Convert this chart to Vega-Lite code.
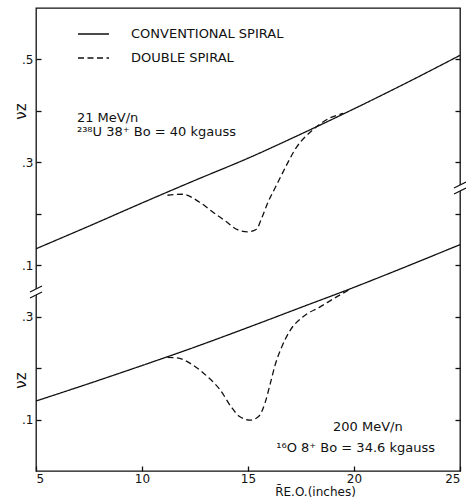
{
  "$schema": "https://vega.github.io/schema/vega-lite/v6.json",
  "width": 424,
  "height": 463,
  "autosize": "none",
  "padding": {"left": 36, "top": 8, "right": 6, "bottom": 31},
  "background": "white",
  "config": {
    "view": {"stroke": "#111", "strokeWidth": 1.3},
    "font": "DejaVu Sans",
    "axis": {"domain": false, "grid": false, "tickSize": -5, "tickColor": "#111", "tickWidth": 1.3, "labelColor": "#111", "labelFontSize": 12, "labelFont": "DejaVu Sans", "titleColor": "#111", "titleFontWeight": "normal", "titleFont": "DejaVu Sans"},
    "line": {"color": "#111", "strokeWidth": 1.3, "interpolate": "monotone"},
    "text": {"font": "DejaVu Sans", "color": "#111", "fontSize": 13, "align": "left", "baseline": "alphabetic"}
  },
  "datasets": {
    "curves": [
      {"panel": "U", "series": "CONVENTIONAL SPIRAL", "R": 5, "nu": 0.132},
      {"panel": "U", "series": "CONVENTIONAL SPIRAL", "R": 7.5, "nu": 0.176},
      {"panel": "U", "series": "CONVENTIONAL SPIRAL", "R": 10, "nu": 0.221},
      {"panel": "U", "series": "CONVENTIONAL SPIRAL", "R": 12.5, "nu": 0.265},
      {"panel": "U", "series": "CONVENTIONAL SPIRAL", "R": 15, "nu": 0.308},
      {"panel": "U", "series": "CONVENTIONAL SPIRAL", "R": 17.5, "nu": 0.355},
      {"panel": "U", "series": "CONVENTIONAL SPIRAL", "R": 20, "nu": 0.404},
      {"panel": "U", "series": "CONVENTIONAL SPIRAL", "R": 22.5, "nu": 0.455},
      {"panel": "U", "series": "CONVENTIONAL SPIRAL", "R": 25, "nu": 0.508},
      {"panel": "U", "series": "DOUBLE SPIRAL", "R": 11.2, "nu": 0.236},
      {"panel": "U", "series": "DOUBLE SPIRAL", "R": 11.9, "nu": 0.238},
      {"panel": "U", "series": "DOUBLE SPIRAL", "R": 12.7, "nu": 0.223},
      {"panel": "U", "series": "DOUBLE SPIRAL", "R": 13.35, "nu": 0.203},
      {"panel": "U", "series": "DOUBLE SPIRAL", "R": 14.0, "nu": 0.184},
      {"panel": "U", "series": "DOUBLE SPIRAL", "R": 14.5, "nu": 0.169},
      {"panel": "U", "series": "DOUBLE SPIRAL", "R": 15.0, "nu": 0.165},
      {"panel": "U", "series": "DOUBLE SPIRAL", "R": 15.4, "nu": 0.170},
      {"panel": "U", "series": "DOUBLE SPIRAL", "R": 15.65, "nu": 0.192},
      {"panel": "U", "series": "DOUBLE SPIRAL", "R": 15.95, "nu": 0.223},
      {"panel": "U", "series": "DOUBLE SPIRAL", "R": 16.3, "nu": 0.252},
      {"panel": "U", "series": "DOUBLE SPIRAL", "R": 16.65, "nu": 0.281},
      {"panel": "U", "series": "DOUBLE SPIRAL", "R": 17.3, "nu": 0.330},
      {"panel": "U", "series": "DOUBLE SPIRAL", "R": 18.05, "nu": 0.363},
      {"panel": "U", "series": "DOUBLE SPIRAL", "R": 18.85, "nu": 0.386},
      {"panel": "U", "series": "DOUBLE SPIRAL", "R": 19.5, "nu": 0.395},
      {"panel": "O", "series": "CONVENTIONAL SPIRAL", "R": 5, "nu": 0.136},
      {"panel": "O", "series": "CONVENTIONAL SPIRAL", "R": 7.5, "nu": 0.170},
      {"panel": "O", "series": "CONVENTIONAL SPIRAL", "R": 10, "nu": 0.205},
      {"panel": "O", "series": "CONVENTIONAL SPIRAL", "R": 12.5, "nu": 0.241},
      {"panel": "O", "series": "CONVENTIONAL SPIRAL", "R": 15, "nu": 0.279},
      {"panel": "O", "series": "CONVENTIONAL SPIRAL", "R": 17.5, "nu": 0.318},
      {"panel": "O", "series": "CONVENTIONAL SPIRAL", "R": 20, "nu": 0.357},
      {"panel": "O", "series": "CONVENTIONAL SPIRAL", "R": 22.5, "nu": 0.398},
      {"panel": "O", "series": "CONVENTIONAL SPIRAL", "R": 25, "nu": 0.440},
      {"panel": "O", "series": "DOUBLE SPIRAL", "R": 11.2, "nu": 0.221},
      {"panel": "O", "series": "DOUBLE SPIRAL", "R": 11.65, "nu": 0.220},
      {"panel": "O", "series": "DOUBLE SPIRAL", "R": 12.4, "nu": 0.206},
      {"panel": "O", "series": "DOUBLE SPIRAL", "R": 13.1, "nu": 0.183},
      {"panel": "O", "series": "DOUBLE SPIRAL", "R": 13.7, "nu": 0.157},
      {"panel": "O", "series": "DOUBLE SPIRAL", "R": 14.2, "nu": 0.125},
      {"panel": "O", "series": "DOUBLE SPIRAL", "R": 14.6, "nu": 0.106},
      {"panel": "O", "series": "DOUBLE SPIRAL", "R": 15.1, "nu": 0.099},
      {"panel": "O", "series": "DOUBLE SPIRAL", "R": 15.5, "nu": 0.106},
      {"panel": "O", "series": "DOUBLE SPIRAL", "R": 15.8, "nu": 0.132},
      {"panel": "O", "series": "DOUBLE SPIRAL", "R": 16.05, "nu": 0.170},
      {"panel": "O", "series": "DOUBLE SPIRAL", "R": 16.3, "nu": 0.209},
      {"panel": "O", "series": "DOUBLE SPIRAL", "R": 16.6, "nu": 0.242},
      {"panel": "O", "series": "DOUBLE SPIRAL", "R": 17.0, "nu": 0.274},
      {"panel": "O", "series": "DOUBLE SPIRAL", "R": 17.6, "nu": 0.300},
      {"panel": "O", "series": "DOUBLE SPIRAL", "R": 18.4, "nu": 0.319},
      {"panel": "O", "series": "DOUBLE SPIRAL", "R": 19.2, "nu": 0.339},
      {"panel": "O", "series": "DOUBLE SPIRAL", "R": 19.8, "nu": 0.353}
    ],
    "notes": [
      {"panel": "U", "R": 6.93, "nu": 0.378, "text": "21 MeV/n", "side": "left"},
      {"panel": "U", "R": 6.93, "nu": 0.351, "text": "²³⁸U 38⁺ Bo = 40 kgauss", "side": "left"},
      {"panel": "O", "R": 19.01, "nu": 0.0787, "text": "200 MeV/n", "side": "left"},
      {"panel": "O", "R": 23.82, "nu": 0.0378, "text": "¹⁶O 8⁺ Bo = 34.6 kgauss", "side": "right"}
    ],
    "breaks": [
      {"R": 5, "nu": 0.348},
      {"R": 25, "nu": 0.55}
    ]
  },
  "encoding": {
    "x": {
      "field": "R", "type": "quantitative",
      "scale": {"domain": [5, 25], "nice": false, "zero": false},
      "axis": {"values": [5, 10, 15, 20, 25], "labelPadding": 7, "title": "R̄E.O.(inches)", "titleFontSize": 12, "titleX": 279, "titleY": 20, "titleBaseline": "middle"}
    }
  },
  "layer": [
    {
      "data": {"name": "curves"},
      "transform": [{"filter": "datum.panel == 'U' && datum.series == 'CONVENTIONAL SPIRAL'"}],
      "mark": {"type": "line"},
      "encoding": {
        "y": {"field": "nu", "type": "quantitative", "scale": {"domain": [-0.3, 0.6], "nice": false, "zero": false},
          "axis": {"orient": "left", "values": [0.1, 0.2, 0.3, 0.4, 0.5], "format": ".1f", "labelExpr": "datum.value == 0.2 || datum.value == 0.4 ? '' : replace(datum.label, '0.', '.')", "labelPadding": 8, "title": "νz", "titleFontSize": 15, "titleX": -16, "titleY": 103, "titleAngle": 270, "titleAlign": "center", "titleBaseline": "middle"}},
        "strokeDash": {"field": "series", "type": "nominal",
          "scale": {"domain": ["CONVENTIONAL SPIRAL", "DOUBLE SPIRAL"], "range": [[1, 0], [6, 3.5]]},
          "legend": {"orient": "none", "legendX": 41, "legendY": 9.5, "title": null, "symbolType": "stroke", "symbolSize": 961, "symbolStrokeWidth": 1.3, "symbolStrokeColor": "#111", "labelFontSize": 13, "labelFont": "DejaVu Sans", "labelColor": "#111", "labelOffset": 21, "labelLimit": 400, "rowPadding": -9, "padding": 0}}
      }
    },
    {
      "data": {"name": "curves"},
      "transform": [{"filter": "datum.panel == 'U' && datum.series == 'DOUBLE SPIRAL'"}],
      "mark": {"type": "line"},
      "encoding": {
        "y": {"field": "nu", "type": "quantitative", "scale": {"domain": [-0.3, 0.6], "nice": false, "zero": false},
          "axis": {"orient": "right", "values": [0.3, 0.4, 0.5], "labels": false, "title": null}},
        "strokeDash": {"field": "series", "type": "nominal"}
      }
    },
    {
      "data": {"name": "curves"},
      "transform": [{"filter": "datum.panel == 'O' && datum.series == 'CONVENTIONAL SPIRAL'"}],
      "mark": {"type": "line"},
      "encoding": {
        "y": {"field": "nu", "type": "quantitative", "scale": {"domain": [0, 0.9], "nice": false, "zero": false},
          "axis": {"orient": "left", "values": [0.1, 0.2, 0.3], "format": ".1f", "labelExpr": "datum.value == 0.2 ? '' : replace(datum.label, '0.', '.')", "labelPadding": 8, "title": "νz", "titleFontSize": 15, "titleX": -16, "titleY": 372, "titleAngle": 270, "titleAlign": "center", "titleBaseline": "middle"}},
        "strokeDash": {"field": "series", "type": "nominal"}
      }
    },
    {
      "data": {"name": "curves"},
      "transform": [{"filter": "datum.panel == 'O' && datum.series == 'DOUBLE SPIRAL'"}],
      "mark": {"type": "line"},
      "encoding": {
        "y": {"field": "nu", "type": "quantitative", "scale": {"domain": [0, 0.9], "nice": false, "zero": false},
          "axis": {"orient": "right", "values": [0.1, 0.2, 0.3, 0.4, 0.5], "labels": false, "title": null}},
        "strokeDash": {"field": "series", "type": "nominal"}
      }
    },
    {
      "data": {"name": "notes"},
      "transform": [{"filter": "datum.panel == 'U'"}],
      "mark": {"type": "text"},
      "encoding": {
        "y": {"field": "nu", "type": "quantitative", "scale": {"domain": [-0.3, 0.6], "nice": false, "zero": false}, "axis": null},
        "text": {"field": "text"}
      }
    },
    {
      "data": {"name": "notes"},
      "transform": [{"filter": "datum.panel == 'O' && datum.side == 'left'"}],
      "mark": {"type": "text", "align": "left"},
      "encoding": {
        "y": {"field": "nu", "type": "quantitative", "scale": {"domain": [0, 0.9], "nice": false, "zero": false}, "axis": null},
        "text": {"field": "text"}
      }
    },
    {
      "data": {"name": "notes"},
      "transform": [{"filter": "datum.panel == 'O' && datum.side == 'right'"}],
      "mark": {"type": "text", "align": "right"},
      "encoding": {
        "y": {"field": "nu", "type": "quantitative", "scale": {"domain": [0, 0.9], "nice": false, "zero": false}, "axis": null},
        "text": {"field": "text"}
      }
    },
    {
      "data": {"name": "breaks"},
      "mark": {"type": "point", "shape": "M-1,0L1,-1L1,0L-1,1Z", "filled": true, "fill": "white", "strokeWidth": 0, "opacity": 1, "size": 144},
      "encoding": {
        "y": {"field": "nu", "type": "quantitative", "scale": {"domain": [0, 0.9], "nice": false, "zero": false}, "axis": null}
      }
    },
    {
      "data": {"name": "breaks"},
      "mark": {"type": "point", "shape": "M-1,0L1,-1M-1,1L1,0", "filled": false, "stroke": "#111", "strokeWidth": 1.2, "opacity": 1, "size": 144},
      "encoding": {
        "y": {"field": "nu", "type": "quantitative", "scale": {"domain": [0, 0.9], "nice": false, "zero": false}, "axis": null}
      }
    }
  ],
  "resolve": {"scale": {"y": "independent"}, "axis": {"y": "independent"}}
}
